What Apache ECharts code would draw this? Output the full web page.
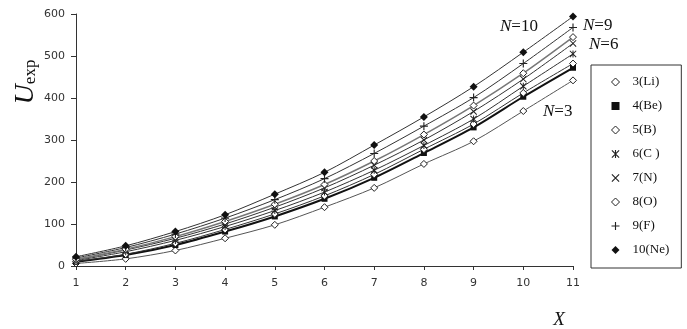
<!DOCTYPE html>
<html>
<head>
<meta charset="utf-8">
<script src="https://cdn.jsdelivr.net/npm/echarts@6/dist/echarts.min.js"></script>
<style>
html,body{margin:0;padding:0;background:#fff;}
#main{width:687px;height:329px;}
</style>
</head>
<body>
<div id="main"></div>
<script>
// X values and U_exp for each element
var xData = [1, 2, 3, 4, 5, 6, 7, 8, 9, 10, 11];
var li = [6, 17, 37, 66, 98, 140, 186, 243, 297, 369, 442];
var be = [10, 26, 50, 82, 118, 160, 210, 269, 330, 403, 472];
var bo = [11, 28, 54, 87, 124, 167, 218, 278, 338, 412, 482];
var ca = [13, 34, 61, 94, 132, 176, 228, 287, 350, 428, 505];
var ni = [15, 38, 66, 100, 140, 186, 240, 300, 368, 445, 530];
var ox = [16, 40, 70, 106, 147, 194, 250, 313, 382, 459, 545];
var fl = [19, 44, 76, 114, 158, 208, 268, 333, 401, 482, 568];
var ne = [22, 48, 82, 122, 171, 223, 288, 355, 427, 509, 594];
var names = ['3(Li)', '4(Be)', '5(B)', '6(C )', '7(N)', '8(O)', '9(F)', '10(Ne)'];

// marker shapes
var PLUS = 'path://M4.3,0H5.7V10H4.3Z M0,4.3H10V5.7H0Z';
var CROSS = 'path://M0,1L1,0L10,9L9,10Z M9,0L10,1L1,10L0,9Z';
var STAR = 'path://M0,1L1,0L10,9L9,10Z M9,0L10,1L1,10L0,9Z M4.3,0H5.7V10H4.3Z';

function pairs(ys){
    var out = [];
    for(var i=0;i<xData.length;i++){
        out.push([xData[i], ys[i]]);
    }
    return out;
}

function mk(name, ys, symbol, size, fill, lineColor, lineWidth){
    return {
        name: name,
        type: 'line',
        smooth: 0.3,
        data: pairs(ys),
        symbol: symbol,
        symbolSize: size,
        showSymbol: true,
        itemStyle: {color: fill, borderColor: '#222', borderWidth: (fill == '#fff') ? 1 : 0},
        lineStyle: {color: lineColor, width: lineWidth},
        emphasis: {disabled: true},
        animation: false
    };
}

var chart = echarts.init(document.getElementById('main'));

var series = [
    mk(names[0], li, 'diamond', 7, '#fff', '#555', 1),
    mk(names[1], be, 'rect', 6, '#111', '#111', 2),
    mk(names[2], bo, 'diamond', 7, '#fff', '#333', 1),
    mk(names[3], ca, STAR, 7, '#222', '#333', 1),
    mk(names[4], ni, CROSS, 7, '#222', '#333', 1),
    mk(names[5], ox, 'diamond', 7, '#fff', '#777', 1.5),
    mk(names[6], fl, PLUS, 8, '#222', '#333', 1),
    mk(names[7], ne, 'diamond', 8, '#111', '#333', 1)
];

var legendIcons = ['diamond', 'rect', 'diamond', STAR, CROSS, 'diamond', PLUS, 'diamond'];
var legendOpen = [1, 0, 1, 0, 0, 1, 0, 0];
var legendData = [];
for(var i=0;i<names.length;i++){
    legendData.push({
        name: names[i],
        icon: legendIcons[i],
        itemStyle: {borderWidth: legendOpen[i] ? 1 : 0}
    });
}

var serif = '"Liberation Serif", "DejaVu Serif", serif';

var option = {
    backgroundColor: '#fff',
    animation: false,
    grid: {left: 76, right: 114, top: 14, bottom: 63},
    xAxis: {
        type: 'value',
        min: 1, max: 11, interval: 1,
        axisLine: {lineStyle: {color: '#333', width: 1}},
        axisTick: {show: true, length: 4, lineStyle: {color: '#333'}},
        axisLabel: {color: '#333', fontFamily: '"DejaVu Sans", sans-serif', fontSize: 11, margin: 12},
        splitLine: {show: false}
    },
    yAxis: {
        type: 'value',
        min: 0, max: 600, interval: 100,
        axisLine: {show: true, lineStyle: {color: '#333', width: 1}},
        axisTick: {show: true, length: 5, lineStyle: {color: '#333'}},
        axisLabel: {color: '#333', fontFamily: '"DejaVu Sans", sans-serif', fontSize: 11, margin: 11},
        splitLine: {show: false}
    },
    legend: {
        orient: 'vertical',
        left: 591, top: 65,
        padding: [10, 12, 11, 20],
        borderColor: '#333', borderWidth: 1,
        itemWidth: 8, itemHeight: 8, itemGap: 10,
        symbolKeepAspect: true,
        data: legendData,
        textStyle: {fontFamily: serif, fontSize: 13, color: '#111', lineHeight: 14, padding: [0, 0, 0, 8]}
    },
    graphic: [
        {
            type: 'text', x: 40, y: 82, rotation: Math.PI / 2,
            style: {
                rich: {
                    u: {fontFamily: serif, fontStyle: 'italic', fontSize: 28, fill: '#111'},
                    s: {fontFamily: serif, fontSize: 17, fill: '#111', padding: [10, 0, 0, 0]}
                },
                text: '{u|U}{s|exp}',
                align: 'center', verticalAlign: 'bottom'
            }
        },
        {
            type: 'text', x: 559, y: 320,
            style: {text: 'X', fontFamily: serif, fontStyle: 'italic', fontSize: 19, fill: '#111', align: 'center', verticalAlign: 'middle'}
        },
        {
            type: 'text', x: 500, y: 27,
            style: {rich: {i: {fontFamily: serif, fontStyle: 'italic', fontSize: 17, fill: '#111'}, n: {fontFamily: serif, fontSize: 17, fill: '#111'}},
                text: '{i|N}{n|=10}', verticalAlign: 'middle'}
        },
        {
            type: 'text', x: 583, y: 26,
            style: {rich: {i: {fontFamily: serif, fontStyle: 'italic', fontSize: 17, fill: '#111'}, n: {fontFamily: serif, fontSize: 17, fill: '#111'}},
                text: '{i|N}{n|=9}', verticalAlign: 'middle'}
        },
        {
            type: 'text', x: 589, y: 45,
            style: {rich: {i: {fontFamily: serif, fontStyle: 'italic', fontSize: 17, fill: '#111'}, n: {fontFamily: serif, fontSize: 17, fill: '#111'}},
                text: '{i|N}{n|=6}', verticalAlign: 'middle'}
        },
        {
            type: 'text', x: 543, y: 112,
            style: {rich: {i: {fontFamily: serif, fontStyle: 'italic', fontSize: 17, fill: '#111'}, n: {fontFamily: serif, fontSize: 17, fill: '#111'}},
                text: '{i|N}{n|=3}', verticalAlign: 'middle'}
        }
    ],
    series: series
};
chart.setOption(option);
</script>
</body>
</html>
